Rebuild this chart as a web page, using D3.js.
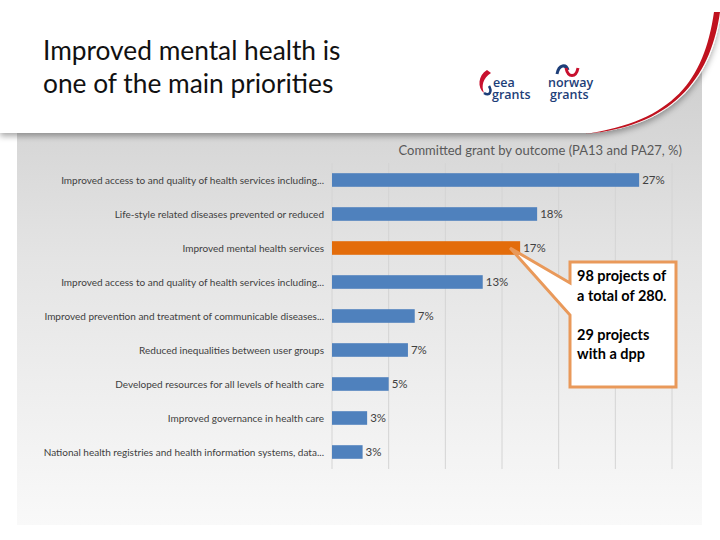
<!DOCTYPE html>
<html lang="en">
<head>
    <meta charset="UTF-8">
    <title>Improved mental health is one of the main priorities</title>
    <script src="https://d3js.org/d3.v7.min.js"></script>
    <style>
        body { margin: 0; background: #fff; }
        svg { display: block; }
    </style>
</head>
<body>
    <div id="chart"></div>

    <script>
        // data
        const categories = [
            "Improved access to and quality of health services including...",
            "Life-style related diseases prevented or reduced",
            "Improved mental health services",
            "Improved access to and quality of health services including...",
            "Improved prevention and treatment of communicable diseases...",
            "Reduced inequalities between user groups",
            "Developed resources for all levels of health care",
            "Improved governance in health care",
            "National health registries and health information systems, data..."
        ];
        const values = [27.1, 18.1, 16.6, 13.3, 7.3, 6.7, 5.0, 3.1, 2.7];
        const valueLabels = ["27%", "18%", "17%", "13%", "7%", "7%", "5%", "3%", "3%"];
        const highlight = "Improved mental health services";
        const xTicks = [0, 5, 10, 15, 20, 25, 30];
        const calloutLines = ["98 projects of", "a total of 280.", "", "29 projects", "with a dpp"];

        const W = 720, H = 540;
        const svg = d3.select("#chart").append("svg")
            .attr("width", W).attr("height", H);
        const defs = svg.append("defs");

        const grad = defs.append("linearGradient").attr("id", "panelGrad")
            .attr("x1", 0).attr("y1", 0).attr("x2", 0).attr("y2", 1);
        grad.append("stop").attr("offset", "0%").attr("stop-color", "#cccccc");
        grad.append("stop").attr("offset", "45%").attr("stop-color", "#e4e4e4");
        grad.append("stop").attr("offset", "100%").attr("stop-color", "#f9f9f9");

        const shadow = defs.append("filter").attr("id", "shadow")
            .attr("x", "-5%").attr("y", "-5%").attr("width", "110%").attr("height", "130%");
        shadow.append("feDropShadow").attr("dx", 0).attr("dy", 3)
            .attr("stdDeviation", 3).attr("flood-color", "#000").attr("flood-opacity", 0.35);

        // gray panel behind the chart
        svg.append("rect").attr("x", 17).attr("y", 40).attr("width", 685).attr("height", 485)
            .attr("fill", "url(#panelGrad)");

        // white header with the red swoosh
        svg.append("path")
            .attr("d", "M0,0 H720 V18 C712,70 680,126 590,133 H0 Z")
            .attr("fill", "#fff").attr("filter", "url(#shadow)");
        svg.append("path")
            .attr("d", "M720,12 C712,70 680,126 585,134 C674,121 704,80 714,12 Z")
            .attr("fill", "#c0121f");

        const titleLines = ["Improved mental health is", "one of the main priorities"];
        svg.append("g").selectAll("text").data(titleLines).join("text")
            .attr("x", 43).attr("y", (d, i) => 60 + i * 33)
            .style("font-family", "Lato, 'Open Sans', sans-serif")
            .style("font-size", "26.3px").attr("fill", "#111")
            .text(d => d);

        // logos (simple drawn marks, one text element each)
        const logo = svg.append("g").style("font-family", "'Open Sans', sans-serif")
            .style("font-size", "12.5px").style("font-weight", 600).attr("fill", "#1d3e78");
        logo.append("path").attr("d", "M487,70 C478,75 477,88 484,93 C481,86 483,78 491,73 Z")
            .attr("fill", "#c8102e");
        logo.append("path").attr("d", "M484,93 C490,97 492,91 489,86")
            .attr("fill", "none").attr("stroke", "#1d3e78").attr("stroke-width", 2.5);
        const eea = logo.append("text").attr("x", 493).attr("y", 87);
        eea.append("tspan").text("eea");
        eea.append("tspan").attr("x", 492).attr("dy", 12).text("grants");
        logo.append("path").attr("d", "M557,74 C559,64 566,64 568,70")
            .attr("fill", "none").attr("stroke", "#1d3e78").attr("stroke-width", 3);
        logo.append("path").attr("d", "M566,68 C568,78 576,78 578,68")
            .attr("fill", "none").attr("stroke", "#c8102e").attr("stroke-width", 3);
        const nor = logo.append("text").attr("x", 548).attr("y", 87);
        nor.append("tspan").text("norway");
        nor.append("tspan").attr("x", 550).attr("dy", 12).text("grants");

        // chart
        const x = d3.scaleLinear().domain([0, 30]).range([332, 672]);
        const y = d3.scaleBand().domain(d3.range(categories.length))
            .range([163, 469]).paddingInner(0.6).paddingOuter(0.3);

        svg.append("text").attr("x", 682).attr("y", 155).attr("text-anchor", "end")
            .style("font-family", "Lato, sans-serif").style("font-size", "13px")
            .attr("fill", "#595959")
            .text("Committed grant by outcome (PA13 and PA27, %)");

        svg.append("g").selectAll("line").data(xTicks).join("line")
            .attr("x1", d => x(d)).attr("x2", d => x(d))
            .attr("y1", 163).attr("y2", 469)
            .attr("stroke", "#d4d4d4").attr("stroke-width", 1);

        svg.append("g").selectAll("rect").data(values).join("rect")
            .attr("x", x(0))
            .attr("y", (d, i) => y(i))
            .attr("width", d => x(d) - x(0))
            .attr("height", y.bandwidth())
            .attr("fill", (d, i) => categories[i] === highlight ? "#e36c0a" : "#4f81bd");

        svg.append("g").selectAll("text").data(values).join("text")
            .attr("x", d => x(d) + 3)
            .attr("y", (d, i) => y(i) + y.bandwidth() / 2)
            .attr("dy", "0.35em")
            .style("font-family", "Lato, sans-serif").style("font-size", "11.5px")
            .attr("fill", "#404040")
            .text((d, i) => valueLabels[i]);

        svg.append("g").selectAll("text").data(categories).join("text")
            .attr("x", 324)
            .attr("y", (d, i) => y(i) + y.bandwidth() / 2)
            .attr("dy", "0.35em").attr("text-anchor", "end")
            .style("font-family", "Lato, sans-serif").style("font-size", "10px")
            .attr("fill", "#404040")
            .text(d => d);

        // callout pointing at the highlighted bar
        const hi = categories.indexOf(highlight);
        const tipX = x(values[hi]) - 10, tipY = y(hi) + y.bandwidth() / 2;
        const bx = 570, by = 262, bw = 106, bh = 125;
        svg.append("path")
            .attr("d", `M${bx},${by} H${bx + bw} V${by + bh} H${bx} V315 L${tipX},${tipY} L${bx},283 Z`)
            .attr("fill", "#fff").attr("stroke", "#e9995a").attr("stroke-width", 3)
            .attr("stroke-linejoin", "miter");
        svg.append("g").selectAll("text").data(calloutLines).join("text")
            .attr("x", bx + 7)
            .attr("y", (d, i) => by + 19 + i * 19.5)
            .style("font-family", "Lato, sans-serif").style("font-weight", "bold")
            .style("font-size", "14.5px").attr("fill", "#000")
            .text(d => d);
    </script>
</body>
</html>
